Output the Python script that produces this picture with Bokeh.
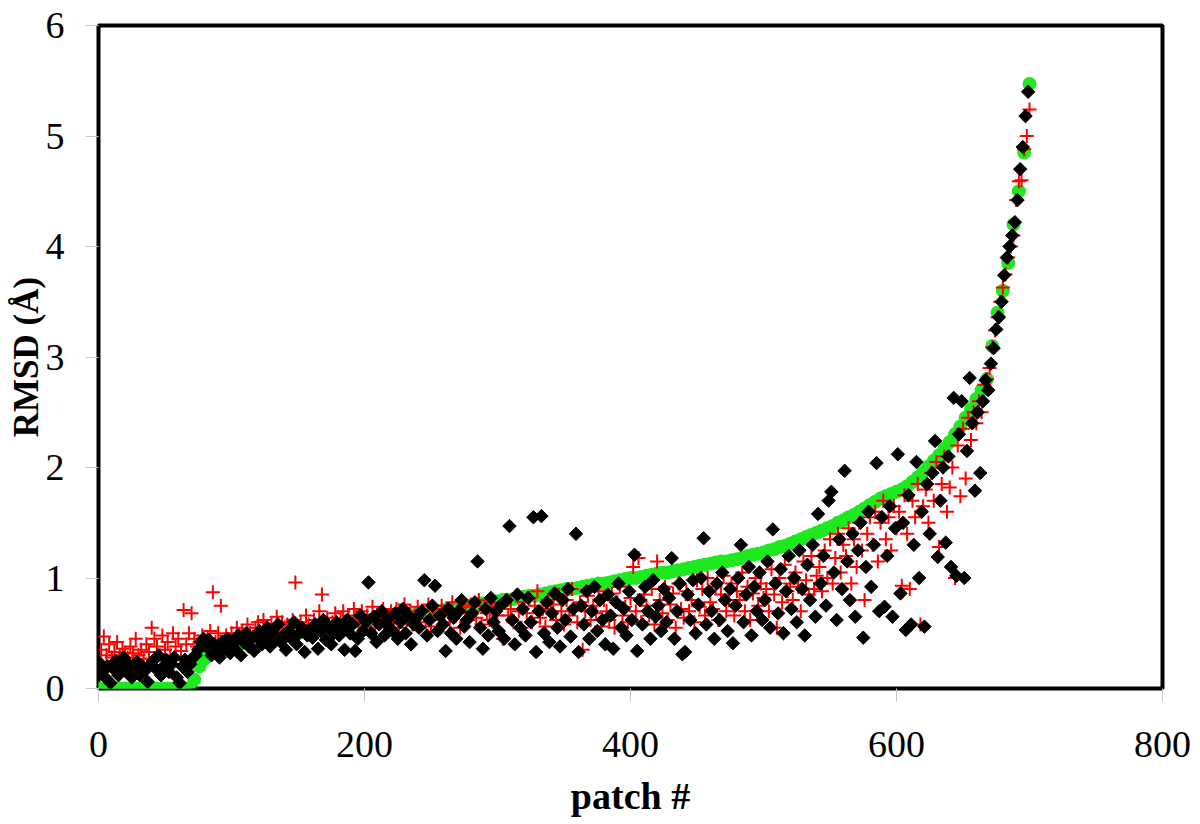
import math
from bokeh.plotting import figure
from bokeh.models import Range1d, FixedTicker
from bokeh.embed import file_html
from bokeh.resources import INLINE

x_ticks = [0, 200, 400, 600, 800]
y_ticks = [0, 1, 2, 3, 4, 5, 6]

# sorted reference RMSD (green), read every 4th patch
green_y = [
    0, 0, 0, 0, 0, 0, 0, 0, 0, 0, 0, 0, 0, 0, 0, 0, 0, 0,
    0.08, 0.2, 0.27, 0.32, 0.35, 0.37, 0.38, 0.39, 0.4, 0.41, 0.42, 0.43,
    0.44, 0.45, 0.46, 0.47, 0.48, 0.49, 0.5, 0.5, 0.51, 0.52, 0.53, 0.54,
    0.55, 0.55, 0.56, 0.57, 0.58, 0.59, 0.6, 0.6, 0.61, 0.62, 0.62, 0.63,
    0.64, 0.64, 0.65, 0.66, 0.66, 0.67, 0.68, 0.68, 0.69, 0.7, 0.7, 0.71,
    0.72, 0.73, 0.74, 0.74, 0.75, 0.76, 0.77, 0.77, 0.78, 0.79, 0.8, 0.8,
    0.81, 0.82, 0.83, 0.84, 0.84, 0.85, 0.86, 0.87, 0.88, 0.89, 0.9, 0.9,
    0.91, 0.92, 0.93, 0.94, 0.95, 0.95, 0.96, 0.97, 0.98, 0.99, 1.0, 1.0,
    1.01, 1.02, 1.03, 1.04, 1.05, 1.05, 1.06, 1.07, 1.08, 1.09, 1.1, 1.11,
    1.12, 1.13, 1.14, 1.15, 1.15, 1.16, 1.17, 1.18, 1.2, 1.21, 1.22, 1.23,
    1.25, 1.26, 1.28, 1.29, 1.31, 1.33, 1.35, 1.37, 1.39, 1.41, 1.43, 1.45,
    1.47, 1.5, 1.52, 1.55, 1.57, 1.6, 1.63, 1.66, 1.69, 1.72, 1.74, 1.76,
    1.78, 1.8, 1.83, 1.87, 1.91, 1.96, 2.01, 2.06, 2.11, 2.17, 2.23, 2.3,
    2.37, 2.45, 2.53, 2.62, 2.7, 2.8, 3.1, 3.4, 3.6, 3.85, 4.2, 4.5,
    4.85, 5.47,
]

# black diamonds, odd patches
black_y = [
    0.23, 0.15, 0.1, 0.2, 0.05, 0.18, 0.25, 0.12, 0.2, 0.28,
    0.15, 0.22, 0.1, 0.18, 0.24, 0.12, 0.2, 0.16, 0.06, 0.22,
    0.25, 0.18, 0.3, 0.12, 0.2, 0.26, 0.15, 0.22, 0.28, 0.1,
    0.05, 0.2, 0.26, 0.15, 0.22, 0.28, 0.3, 0.35, 0.42, 0.45,
    0.38, 0.44, 0.3, 0.4, 0.33, 0.28, 0.42, 0.36, 0.45, 0.32,
    0.4, 0.35, 0.48, 0.3, 0.42, 0.5, 0.38, 0.45, 0.34, 0.47,
    0.52, 0.4, 0.46, 0.55, 0.38, 0.5, 0.44, 0.58, 0.42, 0.48,
    0.35, 0.52, 0.45, 0.6, 0.4, 0.5, 0.55, 0.33, 0.48, 0.53,
    0.46, 0.58, 0.36, 0.52, 0.62, 0.44, 0.55, 0.4, 0.5, 0.6,
    0.48, 0.55, 0.35, 0.62, 0.5, 0.58, 0.34, 0.45, 0.66, 0.52,
    0.6, 0.96, 0.5, 0.65, 0.42, 0.58, 0.7, 0.48, 0.62, 0.55,
    0.52, 0.68, 0.45, 0.6, 0.72, 0.5, 0.66, 0.4, 0.58, 0.64,
    0.55, 0.7, 0.98, 0.48, 0.62, 0.75, 0.93, 0.52, 0.66, 0.58,
    0.34, 0.72, 0.5, 0.64, 0.45, 0.7, 0.8, 0.56, 0.62, 0.42,
    0.68, 0.78, 1.15, 0.55, 0.36, 0.72, 0.48, 0.82, 0.6, 0.7,
    0.52, 0.76, 0.45, 0.8, 1.47, 0.62, 0.4, 0.85, 0.55, 0.72,
    0.48, 0.82, 0.6, 1.55, 0.33, 0.7, 1.56, 0.5, 0.78, 0.42,
    0.68, 0.86, 0.55, 0.38, 0.8, 0.62, 0.9, 0.47, 0.72, 1.4,
    0.33, 0.75, 0.58, 0.88, 0.45, 0.7, 0.92, 0.52, 0.8, 0.62,
    0.4, 0.85, 0.66, 0.36, 0.78, 0.95, 0.55, 0.72, 0.48, 0.88,
    0.62, 1.21, 0.34, 0.8, 0.58, 0.92, 0.7, 0.45, 0.98, 0.65,
    0.75, 0.52, 0.9, 0.6, 0.82, 1.18, 0.45, 0.7, 0.95, 0.31,
    0.33, 0.85, 0.62, 0.98, 0.5, 0.76, 1.0, 1.36, 0.58, 0.88,
    0.7, 0.45, 0.95, 0.62, 1.05, 0.8, 0.52, 0.9, 0.41, 0.75,
    1.0, 1.3, 0.6, 0.85, 1.1, 0.48, 0.92, 0.7, 1.05, 0.62,
    0.8, 1.15, 0.55, 1.44, 0.95, 0.68, 1.08, 0.5, 0.88, 1.2,
    0.72, 1.0, 0.6, 1.25, 0.9, 0.48, 1.12, 0.8, 1.3, 0.65,
    1.58, 0.95, 1.2, 0.75, 1.7, 1.78, 1.05, 0.62, 1.35, 0.9,
    1.97, 1.15, 0.8, 1.4, 0.65, 1.25, 1.5, 0.46, 1.1, 1.6,
    0.92, 1.3, 2.04, 0.7, 1.55, 0.74, 1.2, 1.65, 0.65, 1.45,
    2.12, 0.86, 1.5, 0.53, 1.75, 0.58, 1.3, 2.05, 1.0, 1.6,
    0.56, 1.85, 1.4, 1.95, 2.24, 1.19, 1.7, 2.0, 1.32, 2.1,
    1.1, 2.63, 1.02, 2.3, 2.6, 1.0, 2.15, 2.81, 2.4, 1.79,
    2.5, 1.95, 2.6, 2.79, 2.7, 2.94, 3.08, 3.25, 3.36, 3.5,
    3.74, 3.9, 4.0, 4.1, 4.22, 4.42, 4.7, 4.9, 5.18, 5.4,
]

# red crosses, even patches
red_y = [
    0.35, 0.47, 0.3, 0.4, 0.28, 0.33, 0.42, 0.3, 0.36, 0.32,
    0.28, 0.38, 0.32, 0.45, 0.3, 0.35, 0.27, 0.4, 0.33, 0.55,
    0.45, 0.38, 0.3, 0.48, 0.35, 0.42, 0.3, 0.5, 0.38, 0.45,
    0.34, 0.71, 0.4, 0.5, 0.68, 0.45, 0.38, 0.42, 0.48, 0.4,
    0.45, 0.52, 0.87, 0.42, 0.5, 0.75, 0.4, 0.48, 0.44, 0.5,
    0.42, 0.55, 0.48, 0.52, 0.45, 0.58, 0.5, 0.47, 0.55, 0.6,
    0.5, 0.62, 0.55, 0.48, 0.58, 0.52, 0.65, 0.45, 0.6, 0.55,
    0.58, 0.5, 0.62, 0.96, 0.55, 0.6, 0.52, 0.66, 0.58, 0.5,
    0.62, 0.56, 0.7, 0.85, 0.58, 0.64, 0.52, 0.6, 0.68, 0.55,
    0.62, 0.7, 0.58, 0.66, 0.5, 0.72, 0.64, 0.6, 0.7, 0.56,
    0.66, 0.6, 0.74, 0.55, 0.68, 0.62, 0.72, 0.58, 0.65, 0.7,
    0.6, 0.72, 0.55, 0.68, 0.76, 0.62, 0.7, 0.58, 0.66, 0.74,
    0.64, 0.7, 0.6, 0.76, 0.56, 0.72, 0.68, 0.62, 0.75, 0.66,
    0.72, 0.6, 0.78, 0.66, 0.7, 0.55, 0.74, 0.68, 0.62, 0.76,
    0.7, 0.64, 0.8, 0.58, 0.75, 0.68, 0.62, 0.78, 0.72, 0.66,
    0.74, 0.45, 0.8, 0.66, 0.72, 0.6, 0.84, 0.7, 0.55, 0.78,
    0.68, 0.82, 0.6, 0.75, 0.88, 0.64, 0.72, 0.56, 0.8, 0.7,
    0.76, 0.62, 0.85, 0.7, 0.58, 0.8, 0.66, 0.9, 0.72, 0.6,
    0.78, 0.35, 0.7, 0.84, 0.62, 0.75, 0.68, 0.88, 0.56, 0.8,
    0.7, 0.62, 0.86, 0.55, 0.78, 0.92, 0.66, 0.74, 0.6, 0.82,
    1.1, 0.7, 1.18, 0.6, 0.85, 0.75, 0.66, 0.9, 0.58, 1.15,
    0.8, 0.68, 0.92, 0.62, 0.76, 0.86, 0.55, 0.95, 0.72, 0.64,
    0.88, 0.7, 0.8, 0.6, 0.98, 0.74, 0.9, 0.66, 1.0, 0.78,
    0.72, 0.92, 0.62, 0.85, 1.02, 0.7, 0.8, 0.95, 0.66, 0.88,
    0.8, 1.05, 0.7, 0.92, 0.62, 0.86, 1.0, 0.75, 0.95, 0.82,
    0.9, 0.7, 1.08, 0.85, 0.55, 1.0, 0.78, 1.12, 0.88, 0.95,
    0.8, 1.05, 0.92, 0.7, 1.15, 0.98, 0.85, 1.2, 0.9, 1.02,
    1.1, 0.88, 1.25, 1.0, 1.35, 0.95, 1.18, 1.4, 1.05, 1.3,
    1.2, 1.45, 0.95, 1.35, 1.1, 1.5, 1.25, 0.8, 1.4, 1.55,
    1.3, 1.6, 1.15, 1.5, 1.7, 1.35, 1.55, 1.25, 1.65, 1.45,
    1.6, 0.93, 1.75, 1.4, 0.9, 1.7, 1.55, 1.85, 0.58, 1.65,
    1.8, 1.5, 1.95, 1.7, 2.05, 1.28, 1.85, 2.1, 1.6, 1.82,
    2.0, 1.0, 2.2, 1.74, 2.35, 1.9, 2.45, 2.25, 2.5, 2.4,
    2.6, 2.5, 2.75, 2.8, 2.9, 3.09, 3.24, 3.36, 3.5, 3.63,
    3.75, 3.9, 4.0, 4.1, 4.42, 4.59, 4.6, 4.88, 5.0, 5.24,
]

green_x = list(range(0, 4 * len(green_y), 4))
black_x = list(range(1, 2 * len(black_y), 2))
red_x = list(range(2, 2 * len(red_y) + 1, 2))

p = figure(
    width=1198, height=819,
    output_backend="svg", toolbar_location=None,
    x_range=Range1d(0, 800), y_range=Range1d(0, 6),
    min_border_left=98, min_border_right=36,
    min_border_top=25, min_border_bottom=130,
)
p.xgrid.visible = False
p.ygrid.visible = False
p.outline_line_color = "black"
p.outline_line_width = 4
p.background_fill_color = "white"
p.border_fill_color = "white"

for ax, ticks in ((p.xaxis, x_ticks), (p.yaxis, y_ticks)):
    ax.ticker = FixedTicker(ticks=ticks)
    ax.axis_line_color = None
    ax.major_tick_line_color = "#c8c8c8"
    ax.major_tick_out = 13
    ax.major_tick_in = 0
    ax.minor_tick_line_color = None
    ax.major_label_text_font = "Liberation Serif"
    ax.major_label_text_font_size = "38px"
    ax.major_label_text_color = "black"
    ax.axis_label_text_font = "Liberation Serif"
    ax.axis_label_text_font_style = "bold"
    ax.axis_label_text_color = "black"

p.xaxis.axis_label = "patch #"
p.xaxis.axis_label_text_font_size = "38px"
p.xaxis.major_label_standoff = 30
p.xaxis.axis_label_standoff = 15
p.yaxis.axis_label = "RMSD (Å)"
p.yaxis.axis_label_text_font_size = "35px"
p.yaxis.major_label_standoff = 21
p.yaxis.axis_label_standoff = -3

p.scatter(green_x, green_y, marker="circle", size=14,
          fill_color="#1ee81e", line_color=None)
p.scatter(red_x, red_y, marker="cross", size=14,
          line_color="#ff0000", line_width=2)
p.scatter(black_x, black_y, marker="square", angle=math.pi / 4, size=9.5,
          fill_color="black", line_color="black", line_width=1)

open("out.html", "w").write(file_html(p, INLINE))
